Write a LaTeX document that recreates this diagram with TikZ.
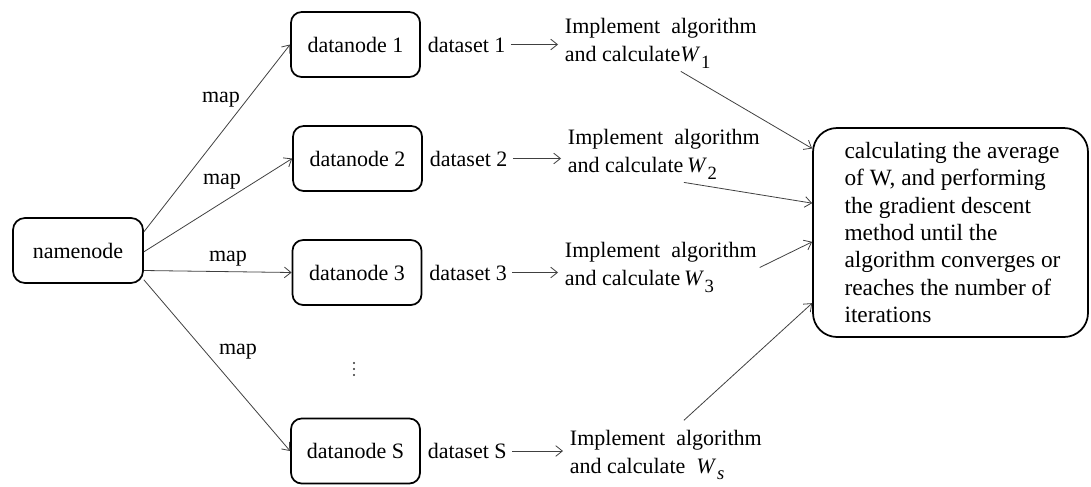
\documentclass[tikz,border=0pt]{standalone}
\usepackage{fontspec}
\setmainfont{Liberation Serif}
\usetikzlibrary{positioning,arrows.meta}
\newcommand{\wcalc}[1]{\textit{W}\kern0.5pt\raisebox{-5pt}{\fontsize{14}{14}\selectfont #1}}

\tikzset{
  box/.style={draw,line width=1.3pt,rounded corners=8pt,minimum width=96.75pt,minimum height=48.75pt,inner sep=0pt},
  lbl/.style={inner sep=3pt},
  impl/.style={align=left,inner sep=2pt,anchor=west},
  conn/.style={-{Straight Barb[length=5pt,width=8pt]},black!75,line width=0.6pt}
}

\begin{document}
\begin{tikzpicture}[x=0.75pt,y=-0.75pt,font=\fontsize{16.5}{21}\selectfont]
  \useasboundingbox (0,0) rectangle (1091,486);
  % master and workers
  \node[box,minimum width=97.5pt,rounded corners=9pt] (nn) at (78,250.5) {namenode};
  \node[box] (dn1) at (355.5,44.5) {datanode 1};
  \node[box] (dn2) at (357.5,158.5) {datanode 2};
  \node[box] (dn3) at (357,272.5) {datanode 3};
  \node[box] (dnS) at (355.5,451) {datanode S};
  \coordinate (vd) at (354,369);
  \foreach \d in {-6,0,6} \fill[black!80] ([yshift=\d*0.75pt]vd) circle (0.8pt);
  % map labels
  \node (m1) at (221,100) {map};
  \node (m2) at (222,182) {map};
  \node (m3) at (228,259) {map};
  \node (m4) at (238,352) {map};
  \draw[conn] ([yshift=14pt]nn.east) -- (dn1.west);
  \draw[conn] ([yshift=-1pt]nn.east) -- (dn2.west);
  \draw[conn] ([yshift=-15pt]nn.east) -- (dn3.west);
  \draw[conn] ([yshift=-22pt]nn.east) -- (dnS.west);
  % datasets
  \node[lbl,right=2pt of dn1] (ds1) {dataset 1};
  \node[lbl,right=2pt of dn2] (ds2) {dataset 2};
  \node[lbl,right=2pt of dn3] (ds3) {dataset 3};
  \node[lbl,right=2pt of dnS] (dsS) {dataset S};
  \node[impl] (im1) at (562,43.5) {Implement\ \ algorithm\\and calculate\wcalc{1}};
  \node[impl] (im2) at (565,154.5) {Implement\ \ algorithm\\and calculate\,\wcalc{2}};
  \node[impl] (im3) at (562,267.5) {Implement\ \ algorithm\\and calculate\,\wcalc{3}};
  \node[impl] (imS) at (567,455) {Implement\ \ algorithm\\and calculate\ \ \wcalc{\textit{s}}};
  \draw[conn,shorten <=1pt,shorten >=3pt] (ds1.east) -- (ds1.east -| im1.west);
  \draw[conn,shorten <=1pt,shorten >=3pt] (ds2.east) -- (ds2.east -| im2.west);
  \draw[conn,shorten <=1pt,shorten >=3pt] (ds3.east) -- (ds3.east -| im3.west);
  \draw[conn,shorten <=1pt,shorten >=3pt] (dsS.east) -- (dsS.east -| imS.west);
  % reduce
  \node[box,rounded corners=18pt,minimum width=206.25pt,minimum height=156.75pt,align=left,
        font=\fontsize{17.5}{20.6}\selectfont] (avg) at (950.5,232.5)
    {\hspace*{3pt}calculating the average\\\hspace*{3pt}of W, and performing\\\hspace*{3pt}the gradient descent\\\hspace*{3pt}method until the\\\hspace*{3pt}algorithm converges or\\\hspace*{3pt}reaches the number of\\\hspace*{3pt}iterations};
  \draw[conn] ([xshift=15pt]im1.south) -- ([yshift=63pt]avg.west);
  \draw[conn] ([xshift=15pt]im2.south) -- ([yshift=22pt]avg.west);
  \draw[conn] (im3.east) -- ([yshift=-7pt]avg.west);
  \draw[conn] ([xshift=13.5pt,yshift=5pt]imS.north) -- ([yshift=-53pt]avg.west);
\end{tikzpicture}
\end{document}
